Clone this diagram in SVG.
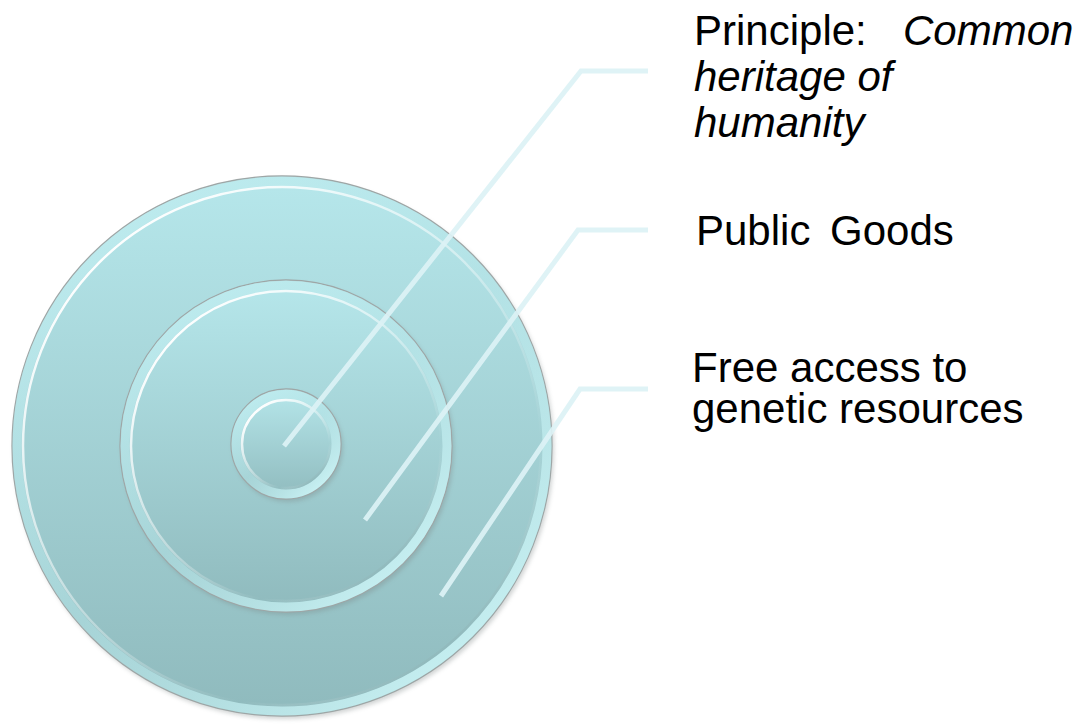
<svg xmlns="http://www.w3.org/2000/svg" width="1088" height="724" viewBox="0 0 1088 724">
<style>
  .lbl{font-family:"Liberation Sans",Arial,sans-serif;font-size:42px;fill:#000}
  .it{font-style:italic}
  .disk{stroke:#9ea6a6;stroke-width:1.3}
  .shadow{fill:#7d8585;opacity:0.35;filter:url(#blur)}
  .rim{fill:none;stroke:url(#rim);stroke-width:9}
  .hl{fill:none;stroke:url(#hl);stroke-width:2.5}
  .conn{fill:none;stroke:#dcf2f5;stroke-width:5;stroke-linejoin:miter;opacity:0.92}
</style>
<defs>
  <filter id="blur" x="-10%" y="-10%" width="120%" height="120%">
    <feGaussianBlur stdDeviation="2"/>
  </filter>
  <linearGradient id="fill" x1="0" y1="0" x2="0" y2="1">
    <stop offset="0" stop-color="#b6e7eb"/>
    <stop offset="1" stop-color="#8fbabd"/>
  </linearGradient>
  <linearGradient id="rim" x1="0.15" y1="0.1" x2="0.85" y2="0.9">
    <stop offset="0" stop-color="#c0edf0" stop-opacity="0.7"/>
    <stop offset="0.5" stop-color="#b8e6e9" stop-opacity="0.5"/>
    <stop offset="1" stop-color="#c8f1f3" stop-opacity="0.95"/>
  </linearGradient>
  <linearGradient id="hl" x1="0.15" y1="0.1" x2="0.85" y2="0.9">
    <stop offset="0" stop-color="#ffffff" stop-opacity="1"/>
    <stop offset="0.45" stop-color="#ffffff" stop-opacity="0.45"/>
    <stop offset="0.8" stop-color="#ffffff" stop-opacity="0"/>
    <stop offset="1" stop-color="#7aa2a5" stop-opacity="0.4"/>
  </linearGradient>
</defs>

<g id="outer">
  <circle class="shadow" cx="284" cy="449" r="270"/>
  <circle class="disk" cx="282" cy="446" r="270" fill="url(#fill)"/>
  <circle class="rim" cx="282" cy="446" r="265"/>
  <circle class="hl" cx="282" cy="446" r="259"/>
</g>
<g id="middle">
  <circle class="shadow" cx="288" cy="449" r="166"/>
  <circle class="disk" cx="286" cy="446" r="166" fill="url(#fill)"/>
  <circle class="rim" cx="286" cy="446" r="161"/>
  <circle class="hl" cx="286" cy="446" r="155"/>
</g>
<g id="inner">
  <circle class="shadow" cx="288" cy="447" r="55"/>
  <circle class="disk" cx="286" cy="444" r="55" fill="url(#fill)"/>
  <circle class="rim" cx="286" cy="444" r="50"/>
  <circle class="hl" cx="286" cy="444" r="44"/>
</g>

<g id="connectors">
  <path class="conn" d="M648,71 H581 L284,446"/>
  <path class="conn" d="M648,230 H578 L365,520"/>
  <path class="conn" d="M648,389 H580 L441,596"/>
</g>

<g id="label-principle">
  <text class="lbl" x="694" y="45">Principle:<tspan class="it" x="903">Common</tspan></text>
  <text class="lbl it" x="694" y="91">heritage of</text>
  <text class="lbl it" x="694" y="137">humanity</text>
</g>
<g id="label-public">
  <text class="lbl" x="696" y="245">Public<tspan x="830">Goods</tspan></text>
</g>
<g id="label-free">
  <text class="lbl" x="692" y="382">Free access to</text>
  <text class="lbl" x="692" y="423">genetic resources</text>
</g>
</svg>
